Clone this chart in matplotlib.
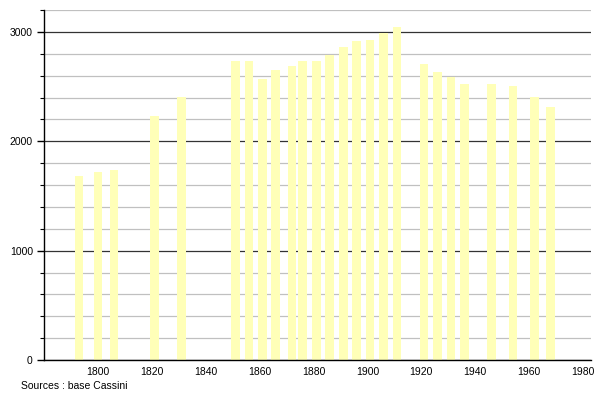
import matplotlib.pyplot as plt
from matplotlib.ticker import MultipleLocator

years = [1793, 1800, 1806, 1821, 1831, 1851, 1856, 1861, 1866, 1872, 1876,
         1881, 1886, 1891, 1896, 1901, 1906, 1911, 1921, 1926, 1931, 1936,
         1946, 1954, 1962, 1968]
population = [1680, 1717, 1741, 2227, 2409, 2735, 2735, 2572, 2655, 2685, 2730,
              2730, 2790, 2865, 2920, 2926, 2993, 3045, 2707, 2632, 2592, 2519,
              2519, 2501, 2404, 2315]
xticks = [1800, 1820, 1840, 1860, 1880, 1900, 1920, 1940, 1960, 1980]
yticks = [0, 1000, 2000, 3000]

plt.rcParams['font.family'] = ['Liberation Sans', 'DejaVu Sans']

fig = plt.figure(figsize=(6, 4), dpi=100)
ax = fig.add_axes([0.0733, 0.1, 0.912, 0.875])

ax.bar(years, population, width=3.2, color='#ffffb8', zorder=2)

ax.set_xlim(1780, 1983)
ax.set_ylim(0, 3200)
ax.set_xticks(xticks)
ax.set_yticks(yticks)
ax.yaxis.set_minor_locator(MultipleLocator(200))
ax.grid(axis='y', which='minor', color='#c0c0c0', linewidth=0.9, zorder=0)
ax.grid(axis='y', which='major', color='#333333', linewidth=0.9, zorder=1)
ax.set_axisbelow(True)

for s in ['top', 'right']:
    ax.spines[s].set_visible(False)
ax.spines['left'].set_linewidth(1.0)
ax.spines['bottom'].set_linewidth(1.0)
ax.tick_params(axis='y', which='major', length=5, width=1, labelsize=7.5, pad=3)
ax.tick_params(axis='y', which='minor', length=3, width=0.8)
ax.tick_params(axis='x', length=0, labelsize=7.5, pad=5)

fig.text(0.035, 0.027, 'Sources : base Cassini', fontsize=7.5)

plt.savefig('out.png')
